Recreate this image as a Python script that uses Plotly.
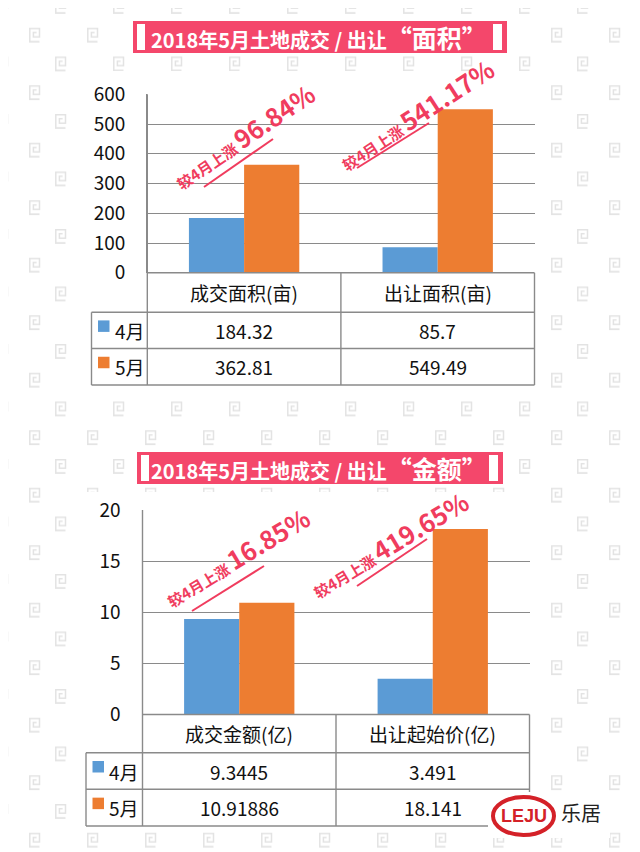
import base64
import plotly.graph_objects as go

# ---------------- data ----------------
series_names = ["4月", "5月"]

area_categories = ["成交面积(亩)", "出让面积(亩)"]
area_apr = [184.32, 85.7]
area_may = [362.81, 549.49]
area_change = ["96.84%", "541.17%"]
area_ticks = [0, 100, 200, 300, 400, 500, 600]

amount_categories = ["成交金额(亿)", "出让起始价(亿)"]
amount_apr = [9.3445, 3.491]
amount_may = [10.91886, 18.141]
amount_change = ["16.85%", "419.65%"]
amount_ticks = [0, 5, 10, 15, 20]

title_main = "2018年5月土地成交 / 出让"
title_area_tag = "“面积”"
title_amount_tag = "“金额”"
change_prefix = "较4月上涨"

# ---------------- style ----------------
W, H = 640, 852
OFF = 8  # page body margin of the exported html
BLUE = "#5b9bd5"
ORANGE = "#ed7d31"
GRID = "#8a8a8a"
RED = "#f03c5e"
BANNER = "#f4476b"
TXT = "#111111"
FONT = "Noto Sans CJK SC, Microsoft YaHei, sans-serif"


def px(x):
    return (x - OFF) / W


def py(y):
    return 1 - (y - OFF) / H


def note(text, x, y, size, color=TXT, family=FONT, xanchor="center", angle=0):
    return dict(text=text, x=px(x), y=py(y), xref="paper", yref="paper", showarrow=False,
                xanchor=xanchor, yanchor="middle", textangle=angle,
                font=dict(family=family, size=size, color=color))


# panel geometry in pixels
panels = [
    dict(cats=area_categories, apr=area_apr, may=area_may, change=area_change,
         ticks=area_ticks, ymax=600, tag=title_area_tag,
         left=147.3, right=534.5, top=94.3, rows=[272.8, 312.3, 348.5, 385.0], lcol=91.5,
         banner=(133, 507, 21, 53), white=(75, 545, 71, 394),
         ann=[((243, 136), -34, (204, 187), (273, 139)),
              ((416, 114), -33, (357, 168), (429, 123))]),
    dict(cats=amount_categories, apr=amount_apr, may=amount_may, change=amount_change,
         ticks=amount_ticks, ymax=20, tag=title_amount_tag,
         left=142.5, right=529.5, top=510.0, rows=[714.5, 752.7, 789.3, 826.0], lcol=86.0,
         banner=(137, 503, 452, 484), white=(70, 545, 492, 829),
         ann=[((236, 557), -31, (192, 611), (264, 566)),
              ((389, 544), -31, (357, 586), (427, 539))]),
]

fig = go.Figure()
shapes = []
annotations = []

# background pattern (watermark glyphs)
glyph = "M10.5 14 L0.8 14 L0.8 0.8 L10.5 0.8 L10.5 9.2 L4.4 9.2 L4.4 4.8 L7.6 4.8"
svg = f'''<svg xmlns="http://www.w3.org/2000/svg" width="{W}" height="{H}" viewBox="0 0 {W} {H}">
<defs><pattern id="p" x="-11" y="-9" width="58" height="57.5" patternUnits="userSpaceOnUse">
<g fill="none" stroke="#e3e3e3" stroke-width="1.5">
<path d="{glyph}"/>
<path d="{glyph}" transform="translate(32,28.75)"/>
</g></pattern></defs>
<rect width="{W}" height="{H}" fill="url(#p)"/></svg>'''
bg_src = "data:image/svg+xml;base64," + base64.b64encode(svg.encode("utf-8")).decode("ascii")

layout_axes = {}
for i, p in enumerate(panels):
    sfx = "" if i == 0 else str(i + 1)
    xa, ya = "x" + sfx, "y" + sfx
    zero = p["rows"][0]
    fig.add_trace(go.Bar(x=p["cats"], y=p["apr"], name=series_names[0], marker_color=BLUE,
                         marker_line_width=0, xaxis=xa, yaxis=ya, showlegend=False))
    fig.add_trace(go.Bar(x=p["cats"], y=p["may"], name=series_names[1], marker_color=ORANGE,
                         marker_line_width=0, xaxis=xa, yaxis=ya, showlegend=False))
    layout_axes["xaxis" + sfx] = dict(domain=[px(p["left"]), px(p["right"])], anchor=ya,
                                      type="category", range=[-0.5, 1.5], showticklabels=False,
                                      showgrid=False, zeroline=False, showline=False,
                                      automargin=False, fixedrange=True)
    layout_axes["yaxis" + sfx] = dict(domain=[py(zero), py(p["top"])], anchor=xa,
                                      range=[0, p["ymax"]], tickvals=p["ticks"],
                                      showgrid=True, gridcolor=GRID, gridwidth=1.4,
                                      showline=True, linecolor=GRID, linewidth=1.4,
                                      zeroline=False, ticks="", ticklabelstandoff=17,
                                      automargin=False,
                                      tickfont=dict(family=FONT, size=19, color=TXT), fixedrange=True)

    # white panel background
    wx0, wx1, wy0, wy1 = p["white"]
    shapes.append(dict(type="rect", xref="paper", yref="paper", x0=px(wx0), x1=px(wx1),
                       y0=py(wy1), y1=py(wy0), fillcolor="white", line_width=0, layer="below"))

    # table
    r = p["rows"]
    L, R, LC = p["left"], p["right"], p["lcol"]
    M = (L + R) / 2
    line = dict(color=GRID, width=1.4)
    for yy, x0 in [(r[0], L), (r[1], LC), (r[2], LC), (r[3], LC)]:
        shapes.append(dict(type="line", xref="paper", yref="paper", x0=px(x0), x1=px(R),
                           y0=py(yy), y1=py(yy), line=line))
    for xx, y0 in [(LC, r[1]), (L, p["top"]), (M, r[0]), (R, r[0])]:
        shapes.append(dict(type="line", xref="paper", yref="paper", x0=px(xx), x1=px(xx),
                           y0=py(y0), y1=py(r[3]), line=line))
    col_centers = [(L + M) / 2, (M + R) / 2]
    for c, cat in enumerate(p["cats"]):
        annotations.append(note(cat, col_centers[c], (r[0] + r[1]) / 2, 19))
    for s, (vals, col) in enumerate([(p["apr"], BLUE), (p["may"], ORANGE)]):
        yc = (r[s + 1] + r[s + 2]) / 2
        shapes.append(dict(type="rect", xref="paper", yref="paper", x0=px(LC + 6.5), x1=px(LC + 18),
                           y0=py(yc + 1.5), y1=py(yc - 10), fillcolor=col, line_width=0))
        annotations.append(note(series_names[s], LC + 21, yc, 19, xanchor="left"))
        for c, v in enumerate(vals):
            annotations.append(note(str(v), col_centers[c], yc, 19))

    # banner title
    bx0, bx1, by0, by1 = p["banner"]
    shapes.append(dict(type="rect", xref="paper", yref="paper", x0=px(bx0), x1=px(bx1),
                       y0=py(by1), y1=py(by0), fillcolor=BANNER, line_width=0))
    shapes.append(dict(type="rect", xref="paper", yref="paper", x0=px(bx0 + 4), x1=px(bx0 + 12),
                       y0=py(by1 - 3), y1=py(by0 + 3), fillcolor="white", line_width=0))
    shapes.append(dict(type="rect", xref="paper", yref="paper", x0=px(bx1 - 14), x1=px(bx1 - 5),
                       y0=py(by1 - 3), y1=py(by0 + 3), fillcolor="white", line_width=0))
    annotations.append(note(
        f"<b>{title_main}<span style='font-size:25px'>{p['tag']}</span></b>",
        (bx0 + bx1) / 2 - 1, (by0 + by1) / 2, 20, color="white"))

    # change annotations
    for c, ((tx, ty), ang, (lx0, ly0), (lx1, ly1)) in enumerate(p["ann"]):
        annotations.append(note(
            f"<b><span style='font-size:15px'>{change_prefix} </span>{p['change'][c]}</b>",
            tx, ty, 25, color=RED, angle=ang))
        shapes.append(dict(type="line", xref="paper", yref="paper", x0=px(lx0), x1=px(lx1),
                           y0=py(ly0), y1=py(ly1), line=dict(color=RED, width=2)))

# logo
shapes.append(dict(type="rect", xref="paper", yref="paper", x0=px(488), x1=px(610),
                   y0=py(838), y1=py(792), fillcolor="white", line_width=0))
shapes.append(dict(type="circle", xref="paper", yref="paper", x0=px(493), x1=px(554),
                   y0=py(835), y1=py(797), fillcolor="white", line=dict(color="#d42128", width=4)))
annotations.append(note("<b>LEJU</b>", 523.5, 816, 18, color="#d42128",
                        family="Liberation Sans, Arial, sans-serif"))
annotations.append(note("乐居", 581, 812, 20, color="#222222"))

fig.update_layout(
    width=W, height=H, autosize=False,
    margin=dict(l=0, r=0, t=0, b=0, pad=0, autoexpand=False),
    paper_bgcolor="white", plot_bgcolor="rgba(0,0,0,0)",
    barmode="group", bargap=0.43, bargroupgap=0,
    shapes=shapes, annotations=annotations,
    images=[dict(source=bg_src, xref="paper", yref="paper", x=0, y=1, sizex=1, sizey=1,
                 xanchor="left", yanchor="top", sizing="stretch", layer="below")],
    font=dict(family=FONT),
    **layout_axes,
)

fig.write_html("out.html", config={"displayModeBar": False})
